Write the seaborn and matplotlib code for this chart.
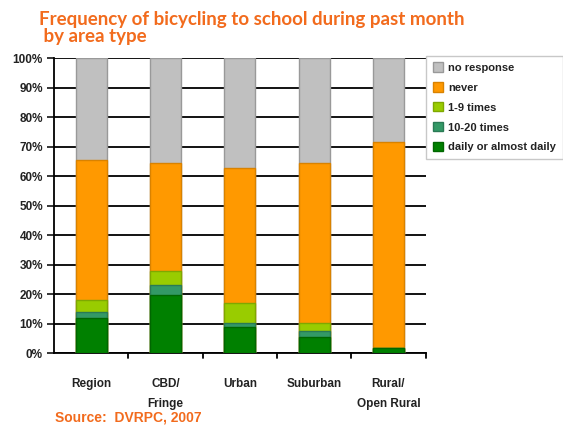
import matplotlib.pyplot as plt
import pandas as pd
import seaborn as sns
from matplotlib.patches import Patch

# Data (percent of respondents)
area_types = ['Region', 'CBD/\nFringe', 'Urban', 'Suburban', 'Rural/\nOpen Rural']
daily = [12.0, 19.8, 9.1, 5.7, 1.8]
times_10_20 = [2.0, 3.4, 1.3, 2.0, 0.0]
times_1_9 = [4.0, 4.8, 6.8, 2.7, 0.0]
never = [47.5, 36.7, 45.6, 54.3, 69.7]
no_response = [34.5, 35.3, 37.2, 35.3, 28.5]

series_names = ['daily or almost daily', '10-20 times', '1-9 times', 'never', 'no response']
colors = ['#008000', '#339966', '#99CC00', '#FF9900', '#C0C0C0']
edges = ['#006600', '#2A7A55', '#7FA800', '#D98200', '#999999']

df = pd.DataFrame({'area': area_types, series_names[0]: daily, series_names[1]: times_10_20,
                   series_names[2]: times_1_9, series_names[3]: never, series_names[4]: no_response})
cum = df[series_names].cumsum(axis=1)

sns.set_style('white')
plt.rcParams['font.family'] = ['Liberation Sans', 'DejaVu Sans']
txt = '#222222'

fig = plt.figure(figsize=(5.63, 4.29), dpi=100)
ax = fig.add_axes([0.096, 0.176, 0.66, 0.688])

# draw stacked bars from the top segment down so smaller totals cover larger ones
for name, c, e in reversed(list(zip(series_names, colors, edges))):
    sns.barplot(x=df['area'], y=cum[name], color=c, edgecolor=e, linewidth=1,
                width=0.42, saturation=1, ax=ax, zorder=3)

ax.set_ylim(0, 100)
ax.set_xlim(-0.5, 4.5)
ax.set_yticks(range(0, 101, 10))
ax.set_yticklabels([f'{v}%' for v in range(0, 101, 10)], fontsize=8.5, fontweight='bold', color=txt)
ax.set_xticks(range(5))
ax.set_xticklabels(area_types, fontsize=8.5, fontweight='bold', color=txt, linespacing=1.9)
ax.set_xlabel('')
ax.set_ylabel('')
ax.yaxis.grid(True, color='black', linewidth=1.3, zorder=0)
ax.set_axisbelow(True)
for s in ['top', 'right']:
    ax.spines[s].set_visible(False)
ax.spines['left'].set_color('black')
ax.spines['bottom'].set_color('black')
ax.spines['left'].set_linewidth(1.3)
ax.spines['bottom'].set_linewidth(1.3)
ax.tick_params(axis='y', which='both', left=True, length=5, width=1.3, pad=3)
ax.tick_params(axis='x', bottom=False, pad=14)
# category separator ticks
for xb in [0.5, 1.5, 2.5, 3.5, 4.5]:
    ax.plot([xb, xb], [0, -1.5], color='black', lw=1.3, clip_on=False)

handles = [Patch(facecolor=c, edgecolor=e) for c, e in zip(colors, edges)][::-1]
leg = fig.legend(handles, series_names[::-1], loc='upper left', bbox_to_anchor=(0.757, 0.87),
                 fontsize=8, frameon=True, fancybox=False, handlelength=0.9, handleheight=0.9,
                 labelspacing=0.85, borderpad=0.6, handletextpad=0.5, borderaxespad=0)
leg.get_frame().set_edgecolor('#BBBBBB')
for t in leg.get_texts():
    t.set_fontweight('bold')
    t.set_color(txt)

fig.text(0.07, 0.975, 'Frequency of bicycling to school during past month\n by area type',
         color='#F26B1D', fontsize=13.5, fontweight='bold', va='top', linespacing=1.05,
         family=['Lato', 'DejaVu Sans'])
fig.text(0.097, 0.017, 'Source:  DVRPC, 2007', color='#F26B1D', fontsize=10, fontweight='bold')

fig.savefig('out.png', dpi=100)
